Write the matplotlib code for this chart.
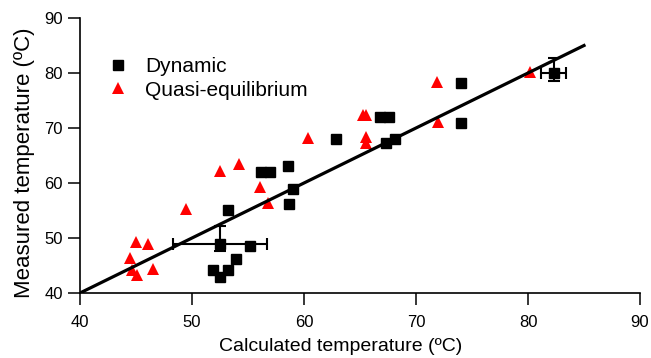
import matplotlib
matplotlib.use("Agg")
import matplotlib.pyplot as plt

plt.rcParams["font.family"] = ["Liberation Sans", "DejaVu Sans"]

# ── Data ──────────────────────────────────────────────────────────
dyn_calc = [52.5, 55.2, 51.9, 52.5, 53.2, 53.9, 53.2, 56.2, 57.0, 58.6,
            59.0, 58.7, 62.9, 66.8, 67.6, 67.3, 68.1, 74.0, 74.0, 82.3]
dyn_meas = [49.0, 48.6, 44.2, 43.0, 44.2, 46.1, 55.1, 62.0, 62.0, 63.1,
            59.0, 56.1, 68.0, 72.0, 72.0, 67.2, 68.0, 78.1, 71.0, 80.0]

quasi_calc = [49.5, 45.0, 46.1, 44.5, 44.6, 45.05, 46.5, 52.5, 54.2, 56.1,
              56.8, 60.4, 65.3, 65.5, 65.5, 65.5, 71.9, 72.0, 80.2]
quasi_meas = [55.3, 49.3, 48.9, 46.4, 44.2, 43.3, 44.4, 62.2, 63.4, 59.2,
              56.3, 68.1, 72.4, 72.4, 68.4, 67.2, 78.3, 71.1, 80.2]

# points carrying uncertainty bars
err_calc = [52.5, 82.3]
err_meas = [49.0, 80.0]
err_x = [4.2, 1.1]
err_y_low = [1.3, 1.5]
err_y_high = [3.1, 2.7]

fit_x = [40, 85]
fit_y = [40, 85]

x_ticks = [40, 50, 60, 70, 80, 90]
y_ticks = [40, 50, 60, 70, 80, 90]

# ── Figure ────────────────────────────────────────────────────────
fig = plt.figure(figsize=(6.51, 3.58), dpi=100)
ax = fig.add_axes([80 / 651, 65 / 358, 560 / 651, 275 / 358])

ax.errorbar(err_calc, err_meas, xerr=err_x, yerr=[err_y_low, err_y_high],
            fmt="none", ecolor="black", elinewidth=1.5, capsize=4,
            capthick=1.5, zorder=2)
ax.plot(dyn_calc, dyn_meas, "s", color="black", markersize=7.5,
        label="Dynamic", zorder=3)
ax.plot(quasi_calc, quasi_meas, "^", color="#ff0000", markersize=8,
        markeredgewidth=0, label="Quasi-equilibrium", zorder=3)
ax.plot(fit_x, fit_y, "-", color="black", linewidth=2.3, zorder=4)

ax.set_xlim(40, 90)
ax.set_ylim(40, 90)
ax.set_xticks(x_ticks)
ax.set_yticks(y_ticks)
ax.tick_params(direction="out", length=8.5, width=1.1, labelsize=12)
ax.tick_params(axis="x", pad=7)
ax.tick_params(axis="y", pad=4)

for side in ("top", "right"):
    ax.spines[side].set_visible(False)
for side in ("left", "bottom"):
    ax.spines[side].set_linewidth(1.2)

ax.set_xlabel("Calculated temperature (ºC)", fontsize=14)
ax.xaxis.set_label_coords(0.466, -0.162)
ax.set_ylabel("Measured temperature (ºC)", fontsize=16)
ax.yaxis.set_label_coords(-0.081, 0.475)

leg = ax.legend(loc="center left", bbox_to_anchor=(0.035, 0.78),
                frameon=False, fontsize=15, handletextpad=0.8,
                borderaxespad=0, labelspacing=0.2, handlelength=1.0)

plt.savefig("out.png", dpi=100)
plt.close()
